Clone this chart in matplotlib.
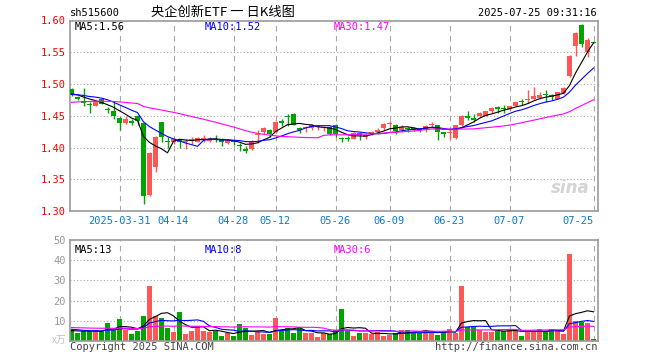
import matplotlib
matplotlib.use("Agg")
import matplotlib.pyplot as plt
import numpy as np
import pandas as pd

# --- data (sh515600 daily K) ---
opens = [1.492, 1.479, 1.474, 1.468, 1.466, 1.477, 1.461, 1.457, 1.447, 1.438,
         1.441, 1.450, 1.438, 1.325, 1.370, 1.440, 1.411, 1.408, 1.413, 1.409,
         1.411, 1.409, 1.413, 1.411, 1.414, 1.414, 1.407, 1.410, 1.403, 1.397,
         1.397, 1.419, 1.424, 1.427, 1.424, 1.441, 1.450, 1.453, 1.431, 1.430,
         1.431, 1.432, 1.430, 1.433, 1.436, 1.415, 1.415, 1.414, 1.423, 1.416,
         1.422, 1.425, 1.430, 1.437, 1.436, 1.427, 1.430, 1.430, 1.429, 1.427,
         1.435, 1.435, 1.424, 1.423, 1.415, 1.435, 1.449, 1.446, 1.449, 1.450,
         1.457, 1.463, 1.461, 1.461, 1.466, 1.473, 1.475, 1.477, 1.478, 1.485,
         1.482, 1.477, 1.486, 1.512, 1.560, 1.593, 1.551, 1.566]
highs = [1.493, 1.481, 1.493, 1.471, 1.473, 1.478, 1.463, 1.471, 1.448, 1.449,
         1.445, 1.451, 1.439, 1.393, 1.418, 1.440, 1.416, 1.416, 1.414, 1.414,
         1.416, 1.417, 1.419, 1.417, 1.419, 1.415, 1.413, 1.411, 1.407, 1.403,
         1.412, 1.428, 1.432, 1.429, 1.441, 1.445, 1.453, 1.454, 1.433, 1.434,
         1.437, 1.436, 1.434, 1.434, 1.437, 1.417, 1.418, 1.424, 1.424, 1.422,
         1.426, 1.431, 1.439, 1.441, 1.437, 1.436, 1.432, 1.433, 1.431, 1.436,
         1.440, 1.436, 1.425, 1.429, 1.436, 1.451, 1.457, 1.453, 1.456, 1.458,
         1.463, 1.465, 1.467, 1.466, 1.472, 1.476, 1.491, 1.495, 1.488, 1.490,
         1.485, 1.488, 1.495, 1.545, 1.582, 1.594, 1.572, 1.567]
lows = [1.481, 1.475, 1.465, 1.454, 1.465, 1.468, 1.454, 1.445, 1.428, 1.437,
        1.436, 1.436, 1.311, 1.324, 1.362, 1.409, 1.400, 1.405, 1.400, 1.397,
        1.405, 1.408, 1.409, 1.408, 1.409, 1.402, 1.406, 1.404, 1.395, 1.392,
        1.396, 1.407, 1.422, 1.416, 1.423, 1.434, 1.434, 1.435, 1.423, 1.424,
        1.428, 1.428, 1.426, 1.419, 1.417, 1.409, 1.411, 1.413, 1.412, 1.413,
        1.419, 1.422, 1.427, 1.433, 1.421, 1.425, 1.425, 1.426, 1.425, 1.425,
        1.432, 1.412, 1.416, 1.414, 1.414, 1.434, 1.444, 1.440, 1.448, 1.449,
        1.455, 1.455, 1.455, 1.459, 1.465, 1.467, 1.470, 1.475, 1.476, 1.471,
        1.475, 1.476, 1.485, 1.511, 1.544, 1.559, 1.542, 1.564]
closes = [1.483, 1.477, 1.470, 1.467, 1.472, 1.469, 1.459, 1.450, 1.439, 1.445,
          1.439, 1.441, 1.323, 1.392, 1.417, 1.417, 1.409, 1.414, 1.408, 1.411,
          1.413, 1.415, 1.415, 1.413, 1.412, 1.408, 1.412, 1.408, 1.402, 1.395,
          1.411, 1.421, 1.431, 1.422, 1.440, 1.439, 1.448, 1.436, 1.427, 1.432,
          1.435, 1.433, 1.432, 1.421, 1.421, 1.413, 1.414, 1.423, 1.420, 1.420,
          1.424, 1.428, 1.437, 1.438, 1.426, 1.433, 1.429, 1.429, 1.428, 1.434,
          1.437, 1.424, 1.421, 1.425, 1.435, 1.450, 1.447, 1.444, 1.454, 1.457,
          1.462, 1.461, 1.460, 1.465, 1.471, 1.472, 1.477, 1.481, 1.483, 1.483,
          1.480, 1.487, 1.494, 1.544, 1.581, 1.563, 1.570, 1.565]
volumes = [5.4, 4.1, 5.0, 5.0, 5.0, 5.1, 8.9, 5.4, 10.9, 5.4,
           3.5, 5.1, 12.4, 27.2, 12.4, 11.4, 6.6, 4.5, 14.4, 3.5,
           5.0, 7.1, 5.1, 4.6, 5.0, 2.5, 3.8, 2.5, 8.3, 6.6,
           3.0, 4.6, 3.3, 3.5, 11.4, 5.0, 6.3, 4.1, 6.6, 3.8,
           3.8, 2.1, 3.8, 3.3, 5.4, 15.8, 5.1, 2.5, 4.1, 4.1,
           3.6, 4.5, 2.5, 3.0, 3.8, 5.4, 5.4, 4.5, 4.1, 5.4,
           4.5, 3.0, 4.5, 5.9, 3.8, 27.2, 6.8, 6.8, 5.4, 4.5,
           4.5, 5.1, 5.1, 5.9, 5.4, 2.5, 5.1, 5.1, 5.9, 4.5,
           5.9, 5.0, 3.5, 43.1, 10.1, 9.2, 8.9, 1.0]

# sessions before the window, only feed the moving averages
prior_closes = [1.455, 1.460, 1.458, 1.462, 1.466, 1.463, 1.459, 1.461, 1.465, 1.468,
                1.464, 1.460, 1.462, 1.466, 1.470, 1.468, 1.465, 1.471, 1.476, 1.479,
                1.482, 1.480, 1.484, 1.481, 1.486, 1.484, 1.488, 1.482, 1.485]
prior_volumes = [7.5, 6.2, 8.1, 6.8, 5.9, 7.4, 9.0, 6.5, 5.8, 7.2,
                 6.9, 8.4, 6.1, 7.7, 5.5, 6.6, 7.9, 6.3, 8.8, 7.0,
                 6.4, 7.8, 6.9, 5.2, 6.0, 4.8, 5.5, 4.9, 5.1]

holidays = ["2025-04-04", "2025-05-01", "2025-05-02", "2025-05-05", "2025-06-02"]
tick_dates = ["2025-03-31", "2025-04-14", "2025-04-28", "2025-05-12", "2025-05-26",
              "2025-06-09", "2025-06-23", "2025-07-07", "2025-07-25"]

days = pd.bdate_range("2025-03-19", "2025-07-25")
days = [d.strftime("%Y-%m-%d") for d in days if d.strftime("%Y-%m-%d") not in holidays]

RED = "#ff5656"
GREEN = "#00a400"
GRID = "#a8a8a8"
MONO = "DejaVu Sans Mono"

o = np.array(opens); h = np.array(highs); l = np.array(lows); c = np.array(closes)
v = np.array(volumes)
n = len(c)
x = np.arange(n)
up = c >= o
cols = [RED if u else GREEN for u in up]

allc = pd.Series(prior_closes + closes)
allv = pd.Series(prior_volumes + volumes)
k = len(prior_closes)
ma_p = {w: allc.rolling(w).mean().values[k:] for w in (5, 10, 30)}
ma_v = {w: allv.rolling(w).mean().values[k:] for w in (5, 10, 30)}
ma_cols = {5: "black", 10: "#0000ff", 30: "#ff00ff"}

fig = plt.figure(figsize=(6.6, 3.6), dpi=100)
ax = fig.add_axes([70 / 660, 1 - 211 / 360, 528 / 660, 190.5 / 360])
axv = fig.add_axes([70 / 660, 1 - 341 / 360, 528 / 660, 101 / 360])

tick_idx = [days.index(d) for d in tick_dates]

for a in (ax, axv):
    a.set_xlim(-0.25, n - 0.25)
    for s in a.spines.values():
        s.set_color("#999999")
        s.set_linewidth(1.2)
    a.tick_params(length=0)
    a.set_xticks([])
    for t in tick_idx:
        a.axvline(t, color=GRID, lw=0.8, ls=(0, (5, 4)), zorder=0)

# price panel
ax.set_ylim(1.30, 1.60)
for yv in (1.35, 1.40, 1.45, 1.50, 1.55):
    ax.axhline(yv, color=GRID, lw=0.8, ls=(0, (1, 2)), zorder=0)
ax.set_yticks([1.30, 1.35, 1.40, 1.45, 1.50, 1.55, 1.60])
ax.set_yticklabels(["%.2f" % t for t in ax.get_yticks()], color="red",
                   fontsize=7.5, family=MONO)
ax.tick_params(axis="y", pad=3)

ax.vlines(x, l, h, colors=cols, lw=1, zorder=2)
body = np.maximum(np.abs(c - o), 0.0016)
ax.bar(x, body, bottom=np.minimum(o, c), width=0.8, color=cols, lw=0, zorder=3)
for w in (5, 10, 30):
    ax.plot(x, ma_p[w], color=ma_cols[w], lw=0.8, zorder=4)

for t, d in zip(tick_idx, tick_dates):
    lab = d if t == tick_idx[0] else d[5:]
    ha = "right" if t == tick_idx[-1] else "center"
    xx = t + 0.1 if ha == "right" else t
    ax.text(xx, -0.055, lab, transform=ax.get_xaxis_transform(), ha=ha, va="center",
            fontsize=7.5, family=MONO, color="#0a78d0")

ax.text(0.008, 0.965, "MA5:1.56", transform=ax.transAxes, fontsize=7.5, family=MONO,
        color="black", va="center")
ax.text(0.255, 0.965, "MA10:1.52", transform=ax.transAxes, fontsize=7.5, family=MONO,
        color="#0000ff", va="center")
ax.text(0.5, 0.965, "MA30:1.47", transform=ax.transAxes, fontsize=7.5, family=MONO,
        color="#ff00ff", va="center")
ax.text(0.985, 0.12, "sina", transform=ax.transAxes, ha="right", va="center",
        fontsize=12, fontweight="bold", style="italic", color="#d4d4d4", zorder=1)

# volume panel
axv.set_ylim(0, 50)
for yv in (10, 20, 30, 40):
    axv.axhline(yv, color=GRID, lw=0.8, ls=(0, (1, 2)), zorder=0)
axv.set_yticks([10, 20, 30, 40, 50])
axv.set_yticklabels(["10", "20", "30", "40", "50"], color="#999999", fontsize=7.5, family=MONO)
axv.tick_params(axis="y", pad=3)
axv.bar(x, v, width=0.8, color=cols, lw=0, zorder=2)
for w in (5, 10, 30):
    axv.plot(x, ma_v[w], color=ma_cols[w], lw=0.8, zorder=4)
axv.text(0.008, 0.9, "MA5:13", transform=axv.transAxes, fontsize=7.5, family=MONO,
         color="black", va="center")
axv.text(0.255, 0.9, "MA10:8", transform=axv.transAxes, fontsize=7.5, family=MONO,
         color="#0000ff", va="center")
axv.text(0.5, 0.9, "MA30:6", transform=axv.transAxes, fontsize=7.5, family=MONO,
         color="#ff00ff", va="center")

# header / footer text
fig.text(70 / 660, 1 - 13 / 360, "sh515600", fontsize=7.5, family=MONO, va="center")
fig.text(223 / 660, 1 - 12 / 360, "央企创新ETF 一 日K线图", fontsize=9.5,
         family=["Noto Sans CJK SC", "DejaVu Sans"], ha="center", va="center")
fig.text(597 / 660, 1 - 13 / 360, "2025-07-25 09:31:16", fontsize=7.5, family=MONO,
         ha="right", va="center")
fig.text(66 / 660, 1 - 340 / 360, "x万", fontsize=7, color="#c0c0c0",
         family=["Noto Sans CJK SC", "DejaVu Sans"], ha="right", va="center")
fig.text(70 / 660, 1 - 347 / 360, "Copyright 2025 SINA.COM", fontsize=7.5, family=MONO,
         color="#444444", va="center")
fig.text(597 / 660, 1 - 347 / 360, "http://finance.sina.com.cn", fontsize=7.5, family=MONO,
         color="#444444", ha="right", va="center")

fig.savefig("out.png", dpi=100)
